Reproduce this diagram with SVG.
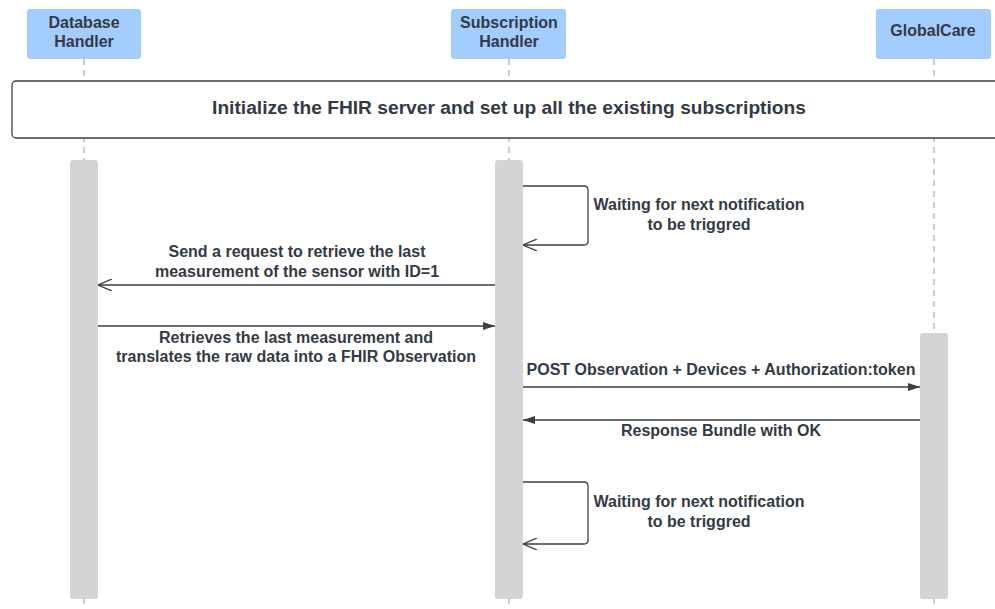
<svg xmlns="http://www.w3.org/2000/svg" width="995" height="609" viewBox="0 0 995 609">
  <style>
    .actor { fill: #a3ccff; stroke: none; }
    .actor-text { font-family: "Liberation Sans", Arial, sans-serif; font-size: 16px; font-weight: bold; fill: #333a45; text-anchor: middle; }
    .lifeline { stroke: #b8bcc2; stroke-width: 1.5; stroke-dasharray: 6 5; fill: none; }
    .activation { fill: #d4d4d4; stroke: none; }
    .frame { fill: #ffffff; stroke: #3a3f47; stroke-width: 1.3; }
    .frame-text { font-family: "Liberation Sans", Arial, sans-serif; font-size: 19.2px; font-weight: bold; fill: #333a45; text-anchor: middle; }
    .msg { stroke: #3a3f47; stroke-width: 1.3; fill: none; }
    .label { font-family: "Liberation Sans", Arial, sans-serif; font-size: 16px; font-weight: bold; fill: #333a45; text-anchor: middle; }
  </style>
  <defs>
    <marker id="filled" viewBox="0 0 12 8" refX="12" refY="4" markerWidth="12" markerHeight="8" markerUnits="userSpaceOnUse" orient="auto">
      <path d="M0,0 L12,4 L0,8 Z" fill="#3a3f47"/>
    </marker>
    <marker id="open" viewBox="0 0 14 12" refX="14" refY="6" markerWidth="14" markerHeight="12" markerUnits="userSpaceOnUse" orient="auto">
      <path d="M0,0 L14,6 L0,12" fill="none" stroke="#3a3f47" stroke-width="1.3"/>
    </marker>
  </defs>

  <rect width="995" height="609" fill="#ffffff"/>

  <!-- lifelines -->
  <g id="lifelines">
    <line class="lifeline" x1="84" y1="59" x2="84" y2="609"/>
    <line class="lifeline" x1="509" y1="59" x2="509" y2="609"/>
    <line class="lifeline" x1="934" y1="59" x2="934" y2="609"/>
  </g>

  <!-- participants -->
  <g id="database-handler">
    <rect class="actor" x="27" y="9" width="114" height="50" rx="3"/>
    <text class="actor-text" x="84" y="28">Database</text>
    <text class="actor-text" x="84" y="47">Handler</text>
  </g>
  <g id="subscription-handler">
    <rect class="actor" x="451" y="9" width="115" height="50" rx="3"/>
    <text class="actor-text" x="509" y="28">Subscription</text>
    <text class="actor-text" x="509" y="47">Handler</text>
  </g>
  <g id="globalcare">
    <rect class="actor" x="876" y="9" width="115" height="50" rx="3"/>
    <text class="actor-text" x="933" y="36">GlobalCare</text>
  </g>

  <!-- initialization frame -->
  <g id="init-frame">
    <rect class="frame" x="12" y="81" width="1000" height="57" rx="4"/>
    <text class="frame-text" x="509" y="114">Initialize the FHIR server and set up all the existing subscriptions</text>
  </g>

  <!-- activation bars -->
  <g id="activations">
    <rect class="activation" x="70" y="160" width="28" height="439" rx="3"/>
    <rect class="activation" x="495" y="160" width="28" height="439" rx="3"/>
    <rect class="activation" x="920" y="333" width="28" height="266" rx="3"/>
  </g>

  <!-- messages -->
  <g id="connectors">
    <path class="msg" d="M523,186 H584 Q588,186 588,190 V241 Q588,245 584,245 H523" marker-end="url(#open)"/>
    <line class="msg" x1="495" y1="285" x2="98" y2="285" marker-end="url(#open)"/>
    <line class="msg" x1="98" y1="326" x2="495" y2="326" marker-end="url(#filled)"/>
    <line class="msg" x1="523" y1="387" x2="920" y2="387" marker-end="url(#filled)"/>
    <line class="msg" x1="920" y1="420" x2="523" y2="420" marker-end="url(#filled)"/>
    <path class="msg" d="M523,482 H584 Q588,482 588,486 V540 Q588,544 584,544 H523" marker-end="url(#open)"/>
  </g>

  <!-- message labels -->
  <g id="labels">
    <text class="label" x="699" y="210">Waiting for next notification</text>
    <text class="label" x="699" y="230">to be triggred</text>
    <text class="label" x="297" y="257">Send a request to retrieve the last</text>
    <text class="label" x="297" y="277">measurement of the sensor with ID=1</text>
    <text class="label" x="296" y="343">Retrieves the last measurement and</text>
    <text class="label" x="296" y="362">translates the raw data into a FHIR Observation</text>
    <text class="label" x="721" y="375">POST Observation + Devices + Authorization:token</text>
    <text class="label" x="721" y="436">Response Bundle with OK</text>
    <text class="label" x="699" y="507">Waiting for next notification</text>
    <text class="label" x="699" y="527">to be triggred</text>
  </g>
</svg>
